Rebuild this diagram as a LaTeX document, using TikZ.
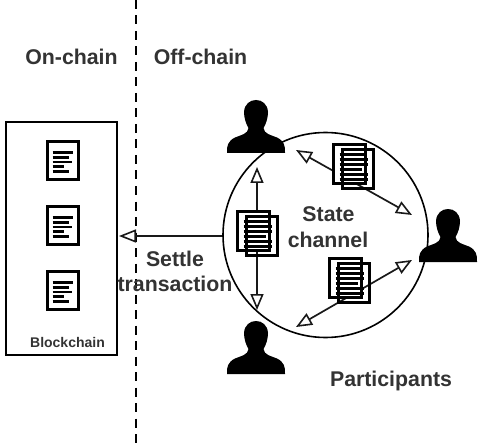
\documentclass[tikz,border=0pt]{standalone}
\usepackage{fontspec}
\setmainfont{Liberation Sans}
\usetikzlibrary{arrows.meta}
\definecolor{txt}{HTML}{333333}
\tikzset{
  x=1pt,y=-1pt,
  lab/.style={font=\fontsize{21.3}{22}\selectfont\bfseries,text=txt,inner sep=0pt,align=center},
  smalllab/.style={font=\fontsize{14}{16}\selectfont\bfseries,text=txt,inner sep=0pt},
  link/.style={line width=1.7pt,draw=black!90},
  dbl/.style={link,{Triangle[open,fill=white,length=16pt,width=13pt,line width=1.6pt]}-{Triangle[open,fill=white,length=16pt,width=13pt,line width=1.6pt]}},
  single/.style={link,-{Triangle[open,fill=white,length=17pt,width=13pt,line width=1.6pt]}},
  pics/person/.style={code={
    \fill[black] (-29,0) .. controls (-29.5,-7) and (-28,-12) .. (-21,-15.5)
      .. controls (-15,-18) and (-8,-19) .. (-7.5,-25)
      .. controls (-10,-29) and (-12,-35) .. (-12,-41)
      .. controls (-11.5,-49) and (-6,-53) .. (0,-53)
      .. controls (6,-53) and (11.5,-49) .. (12,-41)
      .. controls (12,-35) and (10,-29) .. (7.5,-25)
      .. controls (8,-19) and (15,-18) .. (21,-15.5)
      .. controls (28,-12) and (29.5,-7) .. (29,0) -- cycle;
  }},
  pics/doc/.style={code={
    \draw[line width=2.6pt,fill=white] (0,0) rectangle (31,38);
    \foreach \y/\l in {11/25.5,16/21,20.5/24,25/16.5,30/21}
      \draw[line width=2.3pt] (5,\y) -- (\l,\y);
  }},
  pics/docpair/.style={code={
    \draw[line width=2.6pt,fill=white] (0,0) rectangle (32,39);
    \draw[line width=2.6pt] (9,5) rectangle (40,44);
    \foreach \y/\l in {10/30,15/34,20/34,25/28,30/34,35/34}
      \draw[line width=2.5pt] (6,\y) -- (\l,\y);
  }}
}
\begin{document}
\begin{tikzpicture}
\useasboundingbox (0,0) rectangle (486,446);
\fill[white] (0,0) rectangle (486,446);
% dashed divider
\coordinate (dtop) at (136,0);
\coordinate (dbot) at (136,446);
\draw[line width=2pt,dash pattern=on 9pt off 6.5pt,black] (dtop) -- (dbot);
% blockchain box
\node[draw=black,line width=1.6pt,minimum width=111pt,minimum height=233pt,inner sep=0pt,anchor=north west] (chain) at (5,121) {};
\pic at (47.5,141.5) {doc};
\pic at (47.5,206.5) {doc};
\pic at (47.5,271.5) {doc};
% channel circle
\node[draw=black,line width=1.6pt,circle,minimum size=205pt,inner sep=0pt] (channel) at (325.5,235) {};
% end points
\coordinate (settleend) at (119,236);
\coordinate (settlestart) at (222,236);
\coordinate (va) at (257,167);
\coordinate (vb) at (257,310);
\coordinate (ra) at (296,150);
\coordinate (rb) at (412,215);
\coordinate (sa) at (296,327);
\coordinate (sb) at (412,260);
% arrows
\draw[single] (settlestart) -- (settleend);
\draw[dbl] (va) -- (vb);
\draw[dbl] (ra) -- (rb);
\draw[dbl] (sa) -- (sb);
% people
\pic at (256,153) {person};
\pic at (448,262) {person};
\pic at (256,374) {person};
% message documents
\pic at (333.5,144.5) {docpair};
\pic at (237.5,211.5) {docpair};
\pic at (329.5,258.5) {docpair};
% labels
\node[lab] (onchain) at (71.5,57) {On-chain};
\node[lab] (offchain) at (200.5,57) {Off-chain};
\node[lab] (state) at (328.5,214) {State};
\node[lab] (chname) at (328,240) {channel};
\node[lab] (settle) at (175,259) {Settle};
\node[lab] (tx) at (175,284) {transaction};
\node[lab] (part) at (391,381) {Participants};
\node[smalllab] (bc) at (67.5,342) {Blockchain};
\end{tikzpicture}
\end{document}
